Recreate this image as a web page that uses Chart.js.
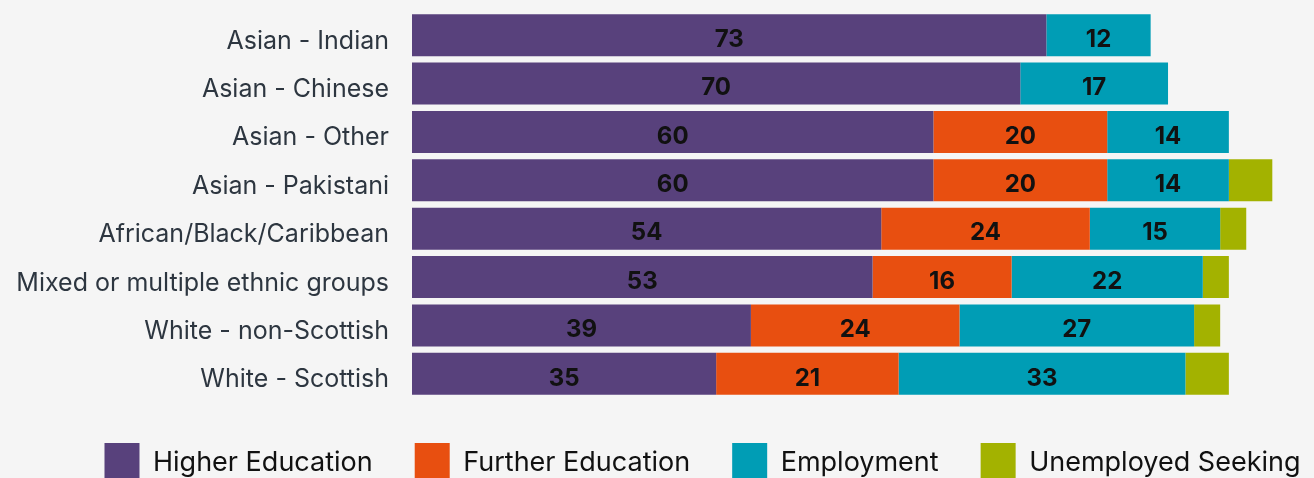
<!DOCTYPE html>
<html>
<head>
<meta charset="utf-8">
<script src="https://cdn.jsdelivr.net/npm/chart.js@4.4.1/dist/chart.umd.min.js"></script>
<style>
  html, body { margin: 0; padding: 0; background: #f5f5f5; overflow: hidden; }
  #wrap { width: 1314px; height: 478px; overflow: hidden; }
  canvas { display: block; }
</style>
</head>
<body>
<div id="wrap"><canvas id="chart" width="1314" height="493"></canvas></div>
<script>
// Destinations of school leavers by ethnic group (%)
const categories = [
  'Asian - Indian',
  'Asian - Chinese',
  'Asian - Other',
  'Asian - Pakistani',
  'African/Black/Caribbean',
  'Mixed or multiple ethnic groups',
  'White - non-Scottish',
  'White - Scottish'
];
const seriesNames = ['Higher Education', 'Further Education', 'Employment', 'Unemployed Seeking'];
const higherEducation   = [73, 70, 60, 60, 54, 53, 39, 35];
const furtherEducation  = [null, null, 20, 20, 24, 16, 24, 21];
const employment        = [12, 17, 14, 14, 15, 22, 27, 33];
const unemployedSeeking = [null, null, null, 5, 3, 3, 3, 5];
const seriesColors = ['#58417c', '#e84f10', '#009db5', '#a3b200'];

const FONT = 'Inter, "Noto Sans", sans-serif';
const AXIS_EDGE = 412;      // where the bars start
const LEGEND_SHIFT = 62;    // legend sits a little right of the page centre

// Writes each segment's value in the middle of its bar
const barValueLabels = {
  id: 'barValueLabels',
  afterDatasetsDraw(chart) {
    const ctx = chart.ctx;
    ctx.save();
    ctx.font = 'bold 24px ' + FONT;
    ctx.fillStyle = '#111111';
    ctx.textAlign = 'center';
    ctx.textBaseline = 'middle';
    chart.data.datasets.forEach((ds, di) => {
      if (!ds.showValues) return;
      const meta = chart.getDatasetMeta(di);
      meta.data.forEach((bar, i) => {
        const v = ds.data[i];
        if (v === null || v === undefined) return;
        const c = bar.getCenterPoint();
        ctx.fillText(String(v), c.x, c.y + 4.5);
      });
    });
    ctx.restore();
  }
};

// Moves the legend block sideways after layout
const legendShift = {
  id: 'legendShift',
  afterLayout(chart) {
    if (chart.legend) {
      chart.legend.left += LEGEND_SHIFT;
      chart.legend.right += LEGEND_SHIFT;
    }
  }
};

const seriesData = [higherEducation, furtherEducation, employment, unemployedSeeking];

new Chart(document.getElementById('chart'), {
  type: 'bar',
  data: {
    labels: categories,
    datasets: seriesNames.map((name, k) => ({
      label: name,
      data: seriesData[k],
      backgroundColor: seriesColors[k],
      borderWidth: 0,
      barPercentage: 0.868,
      categoryPercentage: 1,
      showValues: k < 3
    }))
  },
  options: {
    indexAxis: 'y',
    responsive: false,
    animation: false,
    devicePixelRatio: 1,
    layout: { padding: { top: 11, right: 33, left: 0, bottom: 0 } },
    scales: {
      x: {
        stacked: true,
        min: 0,
        max: 100,
        grid: { display: false, drawTicks: false },
        border: { display: false },
        ticks: { display: false },
        afterFit(scale) { scale.height = 3; }
      },
      y: {
        stacked: true,
        grid: { display: false, drawTicks: false },
        border: { display: false },
        ticks: {
          padding: 23,
          labelOffset: 6,
          color: '#2d3640',
          font: { family: FONT, size: 25 }
        },
        afterFit(scale) {
          scale.width = AXIS_EDGE;
          // labels sit beside the bars, so no extra room above or below
          scale.paddingTop = 0;
          scale.paddingBottom = 0;
        }
      }
    },
    plugins: {
      legend: {
        position: 'bottom',
        labels: {
          boxWidth: 35,
          boxHeight: 40,
          padding: 42,
          color: '#111111',
          font: { family: FONT, size: 27 }
        }
      },
      tooltip: { enabled: false }
    }
  },
  plugins: [barValueLabels, legendShift]
});
</script>
</body>
</html>
